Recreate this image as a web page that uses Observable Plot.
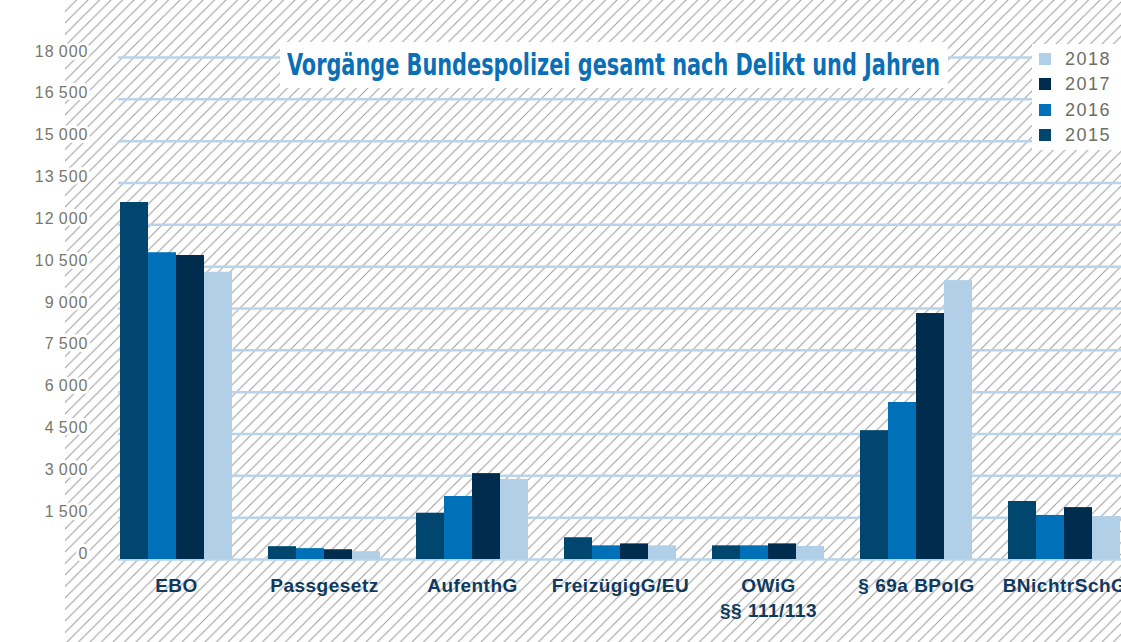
<!DOCTYPE html>
<html>
<head>
<meta charset="utf-8">
<script src="https://cdn.jsdelivr.net/npm/d3@7"></script>
<script src="https://cdn.jsdelivr.net/npm/@observablehq/plot@0.6"></script>
<style>
html, body { margin: 0; padding: 0; width: 1121px; height: 642px; overflow: hidden; background: #fff; }
#wrap { position: relative; width: 1121px; height: 642px; }
#hatch { position: absolute; left: 65px; top: 0; }
.layer { position: absolute; left: 0; top: 0; }
#title { position: absolute; left: 280px; top: 42px; width: 668px; height: 46px; background: #fff; }
#title span { position: absolute; left: 7px; top: 4px; white-space: nowrap; transform-origin: 0 0;
  font-family: "Liberation Sans Narrow", "DejaVu Sans Condensed", "Liberation Sans", sans-serif;
  font-weight: bold; font-size: 31px; color: #0a6fb5; line-height: 36px; }
#legend { position: absolute; left: 1032px; top: 44px; width: 89px; height: 106px; background: #fff; }
.li { position: absolute; left: 7px; height: 20px; }
.li i { position: absolute; left: 0; top: 4px; width: 12px; height: 12px; }
.li b { position: absolute; left: 26px; top: 0; font-weight: normal; white-space: nowrap;
  font-family: "Liberation Sans", Arial, sans-serif; font-size: 18px; letter-spacing: 1.5px; color: #6e6e62; line-height: 20px; }
.ylab text { letter-spacing: 1px; }
.xlab text { letter-spacing: 0.5px; }
</style>
</head>
<body>
<div id="wrap">
  <svg id="hatch" width="1056" height="642">
    <defs>
      <pattern id="hp" patternUnits="userSpaceOnUse" width="11.5" height="11.5">
        <path d="M-1,1 L1,-1 M0,11.5 L11.5,0 M10.5,12.5 L12.5,10.5" stroke="#9a9a9a" stroke-width="1"/>
      </pattern>
    </defs>
    <rect width="1056" height="642" fill="url(#hp)"/>
  </svg>
  <div id="grid" class="layer"></div>
  <div id="bars" class="layer"></div>
  <div id="title"><span id="titletext"></span></div>
  <div id="legend"></div>
</div>
<script>
const titleText = "Vorgänge Bundespolizei gesamt nach Delikt und Jahren";
const categories = ["EBO", "Passgesetz", "AufenthG", "FreizügigG/EU", "OWiG", "§ 69a BPolG", "BNichtrSchG"];
const categoryLabels = ["EBO", "Passgesetz", "AufenthG", "FreizügigG/EU", "OWiG\n§§ 111/113", "§ 69a BPolG", "BNichtrSchG"];
const years = [2015, 2016, 2017, 2018];
const yearColors = ["#00466f", "#0070b8", "#002c4e", "#b1cfe6"];
const v2015 = [12800, 460, 1660, 780, 490, 4620, 2080];
const v2016 = [11000, 390, 2260, 490, 490, 5630, 1580];
const v2017 = [10900, 350, 3080, 560, 560, 8820, 1860];
const v2018 = [10300, 280, 2870, 490, 470, 10000, 1540];
const yTicks = [0, 1500, 3000, 4500, 6000, 7500, 9000, 10500, 12000, 13500, 15000, 16500, 18000];

const series = [v2015, v2016, v2017, v2018];
const data = [];
categories.forEach((c, i) => years.forEach((y, j) => data.push({cat: c, year: y, value: series[j][i]})));

const fmt = d => d >= 1000 ? String(d).slice(0, -3) + "\u2009" + String(d).slice(-3) : String(d);

const frame = {
  width: 1121, height: 642,
  marginTop: 57, marginBottom: 83, marginLeft: 118, marginRight: 0,
  style: {background: "transparent", overflow: "visible"}
};
const yScale = {domain: [0, 18000], axis: null};

// gridlines and y tick labels (whole frame)
const gridPlot = Plot.plot({
  ...frame,
  y: yScale,
  marks: [
    Plot.ruleY(yTicks, {y: d => d, stroke: "#b9d4ea", strokeWidth: 2.5}),
    Plot.text(yTicks, {y: d => d, text: fmt, frameAnchor: "left", textAnchor: "end", dx: -30, dy: -6,
      fill: "#77776b", stroke: "white", strokeWidth: 6, fontSize: 16,
      fontFamily: "Liberation Sans, Arial, sans-serif", className: "ylab"})
  ]
});
document.getElementById("grid").appendChild(gridPlot);

// grouped bars and category labels
const barPlot = Plot.plot({
  ...frame,
  fx: {domain: categories, paddingInner: 0.245, paddingOuter: 0, axis: null, label: null},
  x: {domain: years, padding: 0, axis: null},
  y: yScale,
  color: {type: "ordinal", domain: years, range: yearColors},
  marks: [
    Plot.barY(data, {fx: "cat", x: "year", y: "value", fill: "year"}),
    Plot.text(categories, {fx: d => d, text: d => categoryLabels[categories.indexOf(d)],
      frameAnchor: "bottom", lineAnchor: "top", dy: 15, fontSize: 19, fontWeight: "bold",
      fontFamily: "Liberation Sans, Arial, sans-serif", fill: "#0f3a5e", lineHeight: 1.32, className: "xlab"})
  ]
});
document.getElementById("bars").appendChild(barPlot);

const tt = document.getElementById("titletext");
tt.textContent = titleText;
const w = tt.getBoundingClientRect().width;
tt.style.transform = `scaleX(${653 / w})`;

const legend = document.getElementById("legend");
years.slice().reverse().forEach((y, k) => {
  const row = document.createElement("div");
  row.className = "li";
  row.style.top = (5 + k * 25.3) + "px";
  const sw = document.createElement("i");
  sw.style.background = yearColors[years.indexOf(y)];
  const lb = document.createElement("b");
  lb.textContent = String(y);
  row.appendChild(sw); row.appendChild(lb);
  legend.appendChild(row);
});
</script>
</body>
</html>
